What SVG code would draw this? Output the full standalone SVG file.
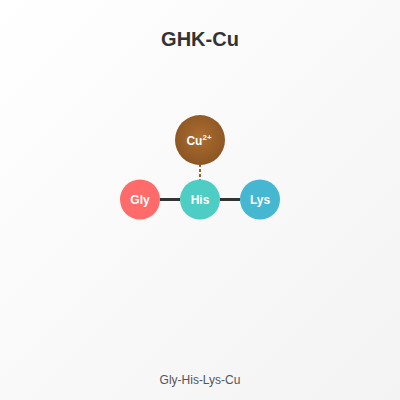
<svg xmlns="http://www.w3.org/2000/svg" width="400" height="400" viewBox="0 0 400 400">
<defs>
<linearGradient id="bg" x1="0" y1="0" x2="1" y2="1">
<stop offset="0" stop-color="#ffffff"/>
<stop offset="1" stop-color="#f3f3f3"/>
</linearGradient>
<radialGradient id="cu" cx="0.5" cy="0.45" r="0.55">
<stop offset="0" stop-color="#ad6e30"/>
<stop offset="1" stop-color="#8b5523"/>
</radialGradient>
<style>
.lbl{font-family:"Liberation Sans",Arial,sans-serif;font-weight:bold;font-size:12px;fill:#fff;text-anchor:middle}
.bond{stroke:#333;stroke-width:3}
</style>
</defs>
<rect width="400" height="400" fill="url(#bg)"/>
<text x="200" y="46" text-anchor="middle" font-family="'Liberation Sans',Arial,sans-serif" font-weight="bold" font-size="20" fill="#333">GHK-Cu</text>
<g id="connectors">
<line class="bond" x1="160" y1="199.5" x2="180" y2="199.5"/>
<line class="bond" x1="220" y1="199.5" x2="240" y2="199.5"/>
<line x1="200" y1="164" x2="200" y2="180" stroke="#a0602a" stroke-width="2" stroke-dasharray="3,2"/>
</g>
<g id="cu-node">
<circle cx="200" cy="140" r="25" fill="url(#cu)"/>
<text class="lbl" x="199" y="145" font-size="14">Cu<tspan font-size="8" dy="-5">2+</tspan></text>
</g>
<g id="gly">
<circle cx="140" cy="199.5" r="20" fill="#ff6b6b"/>
<text class="lbl" x="140" y="203.5">Gly</text>
</g>
<g id="his">
<circle cx="200" cy="199.5" r="20" fill="#4ecdc4"/>
<text class="lbl" x="200" y="203.5">His</text>
</g>
<g id="lys">
<circle cx="260" cy="199.5" r="20" fill="#45b7d1"/>
<text class="lbl" x="260" y="203.5">Lys</text>
</g>
<text x="200" y="384" text-anchor="middle" font-family="'Liberation Sans',Arial,sans-serif" font-size="12" fill="#555">Gly-His-Lys-Cu</text>
</svg>
